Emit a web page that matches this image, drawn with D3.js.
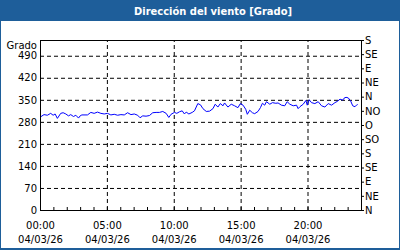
<!DOCTYPE html>
<html><head><meta charset="utf-8">
<script src="https://cdn.jsdelivr.net/npm/d3@7"></script>
<style>
html,body{margin:0;padding:0;background:#fff;}
svg{display:block;}
text{font-family:"DejaVu Sans",sans-serif;}
</style></head>
<body>
<svg id="c" width="400" height="250"></svg>
<script>
const title = "Dirección del viento [Grado]";
const yAxisTitle = "Grado";
const dateLabel = "04/03/26";
const hours = [0.05,0.3,0.55,0.8,0.98,1.13,1.3,1.55,1.73,1.93,2.13,2.3,2.5,2.68,2.88,3.0,3.13,3.55,3.8,4.05,4.3,4.55,4.8,5.05,5.3,5.55,5.8,6.05,6.3,6.55,6.8,7.05,7.3,7.48,7.68,7.93,8.18,8.43,8.68,8.93,9.18,9.43,9.63,9.8,10.05,10.23,10.43,10.63,10.8,10.93,11.13,11.38,11.55,11.8,12.0,12.18,12.43,12.68,12.93,13.1,13.3,13.48,13.68,13.8,14.05,14.3,14.55,14.8,14.98,15.18,15.38,15.5,15.68,15.88,16.05,16.3,16.48,16.63,16.8,16.93,17.18,17.38,17.63,17.8,18.05,18.3,18.48,18.68,18.93,19.18,19.3,19.43,19.68,19.88,19.98,20.13,20.3,20.55,20.8,21.05,21.3,21.55,21.8,22.05,22.23,22.43,22.63,22.73,22.88,23.05,23.23,23.38,23.55,23.68,23.75];
const values = [296,303,301,307,301,305,291,307,309,305,299,303,297,301,292,299,302,302,310,307,311,307,305,307,302,304,301,303,302,309,303,305,301,293,299,298,300,309,310,310,313,307,294,304,310,307,312,315,305,311,305,310,315,338,334,322,313,314,322,336,327,338,331,340,327,336,331,325,338,333,320,304,317,309,306,313,325,339,333,344,336,341,339,340,333,331,344,336,331,333,322,328,336,348,333,350,341,338,344,331,327,338,333,341,345,352,349,355,358,356,346,331,328,334,335];
const leftTicks = [0,70,140,210,280,350,420,490];
const rightTicks = [0,45,90,135,180,225,270,315,360,405,450,495,540];
const rightLabels = ["N","NE","E","SE","S","SO","O","NO","N","NE","E","SE","S"];
const xTicks = [0,5,10,15,20];
const xTickLabels = ["00:00","05:00","10:00","15:00","20:00"];
const minorTicks = d3.range(0,25);

const svg = d3.select("#c");
const blue = "#1e5e9a";
svg.append("rect").attr("x",0).attr("y",0).attr("width",400).attr("height",250).attr("fill",blue);
svg.append("rect").attr("x",1).attr("y",21).attr("width",398).attr("height",227).attr("fill","#fff");
svg.append("text").attr("x",213).attr("y",15).attr("text-anchor","middle")
  .attr("fill","#fff").attr("font-weight","bold").attr("font-size","11px")
  .attr("textLength",158).attr("lengthAdjust","spacingAndGlyphs").text(title);

const x = d3.scaleLinear().domain([0,24]).range([40,361]);
const y = d3.scaleLinear().domain([0,540]).range([210,40]);

// grid
const gx = svg.append("g").attr("transform","translate(0,210)")
  .call(d3.axisBottom(x).tickValues(xTicks.filter(v=>v>0)).tickSize(-170).tickFormat(""));
gx.select(".domain").remove();
gx.selectAll("line").attr("stroke","#000").attr("stroke-dasharray","4,3");
const gy = svg.append("g").attr("transform","translate(40,0)")
  .call(d3.axisLeft(y).tickValues(leftTicks.filter(v=>v>0)).tickSize(-321).tickFormat(""));
gy.select(".domain").remove();
gy.selectAll("line").attr("stroke","#000").attr("stroke-dasharray","4,3");

// line
const line = d3.line().x((d,i)=>x(hours[i])).y(d=>y(d));
svg.append("path").datum(values).attr("d",line).attr("fill","none").attr("stroke","#0000ff").attr("stroke-width",1);

// frame
svg.append("rect").attr("x",40.5).attr("y",40.5).attr("width",321).attr("height",170)
  .attr("fill","none").attr("stroke","#000");

// minor ticks bottom
const mt = svg.append("g").attr("transform","translate(0,210)")
  .call(d3.axisBottom(x).tickValues(minorTicks).tickSize(-3).tickFormat(""));
mt.select(".domain").remove();
mt.selectAll("line").attr("stroke","#000");

// bottom labels
const bl = svg.append("g").attr("transform","translate(0,210)")
  .call(d3.axisBottom(x).tickValues(xTicks).tickSize(0).tickPadding(0).tickFormat((d,i)=>xTickLabels[i]));
bl.select(".domain").remove();
bl.selectAll("text").each(function(d,i){
  const t = d3.select(this);
  t.text(null).attr("y",0).attr("dy",null).attr("font-size","10px").attr("fill","#000").attr("font-family",null);
  t.append("tspan").attr("x",0).attr("y",19).text(xTickLabels[i]);
  t.append("tspan").attr("x",0).attr("y",33).text(dateLabel);
});

// left labels
const ll = svg.append("g").attr("transform","translate(40,0)")
  .call(d3.axisLeft(y).tickValues(leftTicks).tickSize(0).tickPadding(3));
ll.select(".domain").remove();
ll.selectAll("text").attr("font-size","10px").attr("fill","#000").attr("font-family",null);
svg.append("text").attr("x",37).attr("y",48.5).attr("text-anchor","end").attr("font-size","10px").attr("fill","#000").text(yAxisTitle);

// right axis
const ra = svg.append("g").attr("transform","translate(361,0)")
  .call(d3.axisRight(y).tickValues(rightTicks).tickSize(3).tickPadding(1).tickFormat((d,i)=>rightLabels[i]));
ra.select(".domain").remove();
ra.selectAll("line").attr("stroke","#000");
ra.selectAll("text").attr("font-size","10px").attr("fill","#000").attr("font-family",null);
</script>
</body></html>
